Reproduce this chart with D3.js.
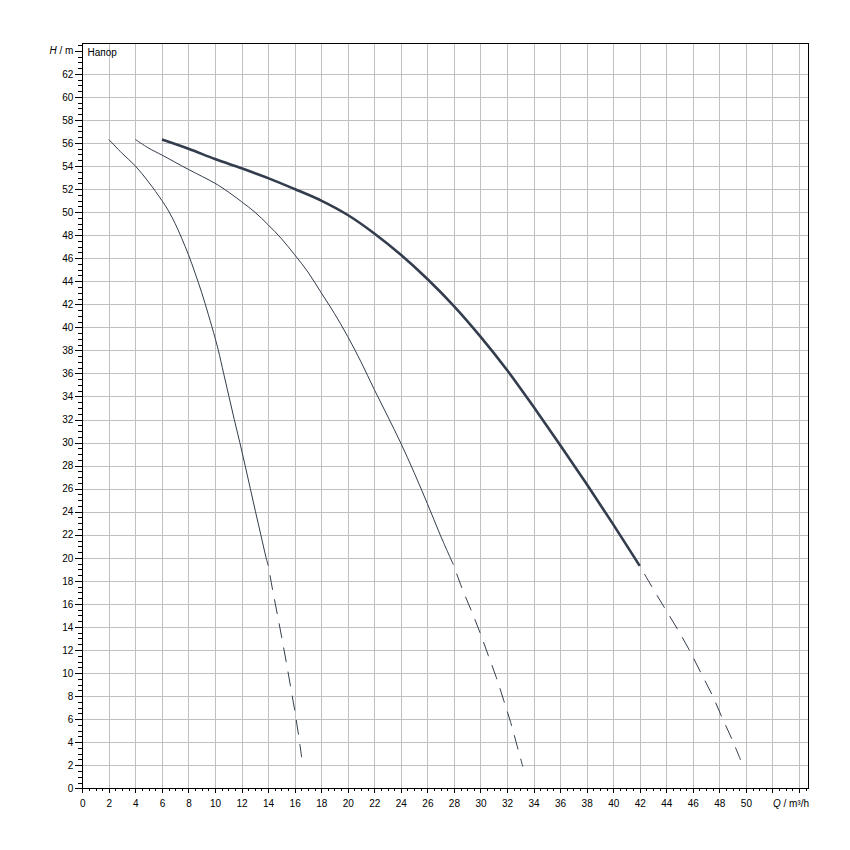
<!DOCTYPE html>
<html>
<head>
<meta charset="utf-8">
<script src="https://cdn.jsdelivr.net/npm/d3@7"></script>
<style>
  html, body { margin: 0; padding: 0; background: #fff; }
  svg { display: block; font-family: "Liberation Sans", Arial, sans-serif; }
</style>
</head>
<body>
<svg id="chart" width="850" height="850"></svg>
<script>
// ---- data (Q in m³/h, H in m) ----
const curve1Q = [2.0, 3.0, 4.0, 5.0, 6.0, 6.5, 7.0, 7.5, 8.0, 8.5, 9.0, 9.5, 10.0, 10.25, 10.65, 11.05, 11.45, 11.87, 12.27, 12.66, 13.05, 13.45, 13.85, 14.02];
const curve1H = [56.3, 55.1, 54.0, 52.6, 51.0, 50.1, 49.0, 47.7, 46.3, 44.7, 43.0, 41.1, 39.1, 38.0, 36.0, 34.0, 32.0, 30.0, 28.0, 26.0, 24.0, 22.0, 20.0, 19.3];
const curve1DashQ = [14.02, 14.33, 14.68, 15.03, 15.36, 15.68, 15.99, 16.28, 16.53];
const curve1DashH = [19.3, 17.27, 15.19, 13.07, 11.0, 8.9, 6.86, 4.71, 2.69];

const curve2Q = [4.0, 5.0, 6.0, 8.0, 10.0, 11.0, 12.0, 13.0, 14.0, 15.0, 16.0, 17.0, 18.0, 19.0, 20.0, 21.0, 22.0, 23.0, 24.0, 25.0, 26.0, 27.0, 27.96];
const curve2H = [56.3, 55.55, 54.95, 53.7, 52.5, 51.75, 50.9, 50.0, 48.9, 47.7, 46.3, 44.8, 43.0, 41.2, 39.2, 37.0, 34.6, 32.3, 29.95, 27.4, 24.7, 21.9, 19.4];
const curve2DashQ = [27.96, 28.64, 29.31, 29.97, 30.6, 31.2, 31.76, 32.28, 32.78, 33.19];
const curve2DashH = [19.4, 17.27, 15.42, 13.5, 11.5, 9.6, 7.6, 5.7, 3.6, 1.88];

const curve3Q = [6.0, 8, 10, 12, 14, 16, 18, 20, 22, 24, 26, 28, 30, 32, 34, 36, 38, 40, 42];
const curve3H = [56.3, 55.5, 54.6, 53.8, 52.95, 52.0, 51.0, 49.75, 48.15, 46.3, 44.2, 41.85, 39.2, 36.3, 33.1, 29.8, 26.4, 22.9, 19.3];
const curve3DashQ = [42.0, 42.91, 43.86, 44.8, 45.7, 46.6, 47.43, 48.18, 48.94, 49.6];
const curve3DashH = [19.3, 17.5, 15.68, 13.9, 12.07, 10.04, 8.16, 6.2, 4.28, 2.46];

const xLabelTicks = d3.range(0, 50.01, 2);   // 0..50
const yLabelTicks = d3.range(0, 62.01, 2);   // 0..62
const xAxisTitle = ["Q", " / m³/h"];
const yAxisTitle = ["H", " / m"];
const curveTitle = "Напор";

(function () {
  const svg = d3.select("#chart");
  const pLeft = 82.3, pRight = 808.3, pTop = 42.7, pBottom = 788.3;
  const x = d3.scaleLinear().domain([0, 54.7]).range([pLeft, pRight]);
  const y = d3.scaleLinear().domain([0, 64.7]).range([pBottom, pTop]);

  const gridColor = "#c0c0c0";
  const lineColor = "#333d4d";

  svg.append("rect").attr("width", 850).attr("height", 850).attr("fill", "#fff");

  // grid
  const grid = svg.append("g").attr("shape-rendering", "crispEdges");
  grid.selectAll(".vx").data(d3.range(2, 54.01, 2)).join("line")
    .attr("x1", d => Math.round(x(d)) + 0.5).attr("x2", d => Math.round(x(d)) + 0.5)
    .attr("y1", pTop).attr("y2", pBottom)
    .attr("stroke", gridColor).attr("stroke-width", 1);
  grid.selectAll(".hy").data(d3.range(2, 62.01, 2)).join("line")
    .attr("y1", d => Math.round(y(d)) + 0.5).attr("y2", d => Math.round(y(d)) + 0.5)
    .attr("x1", pLeft).attr("x2", pRight)
    .attr("stroke", gridColor).attr("stroke-width", 1);

  const fmt = d3.format("d");
  const yMinor = d3.axisLeft(y).tickValues(d3.range(0, 64.71, 0.5)).tickSize(4).tickFormat("");
  const yMajor = d3.axisLeft(y).tickValues(d3.range(0, 64.01, 2)).tickSize(7).tickPadding(2)
    .tickFormat(d => yLabelTicks.includes(d) ? fmt(d) : "");
  const xMinor = d3.axisBottom(x).tickValues(d3.range(0, 54.71, 0.5)).tickSize(3).tickFormat("");
  const xMajor = d3.axisBottom(x).tickValues(d3.range(0, 54.01, 2)).tickSize(5).tickPadding(6.5)
    .tickFormat(d => xLabelTicks.includes(d) ? fmt(d) : "");

  function styleAxis(g) {
    g.select(".domain").remove();
    g.selectAll("line").attr("stroke", "#000").attr("shape-rendering", "crispEdges");
    g.selectAll("text").attr("fill", "#000").attr("font-size", 10)
      .attr("font-family", '"Liberation Sans", Arial, sans-serif');
  }
  svg.append("g").attr("transform", `translate(${pLeft},0)`).call(yMinor).call(styleAxis);
  svg.append("g").attr("transform", `translate(${pLeft},0)`).call(yMajor).call(styleAxis);
  svg.append("g").attr("transform", `translate(0,${pBottom})`).call(xMinor).call(styleAxis);
  svg.append("g").attr("transform", `translate(0,${pBottom})`).call(xMajor).call(styleAxis);

  // frame
  svg.append("rect")
    .attr("x", Math.round(pLeft) + 0.5).attr("y", Math.round(pTop) + 0.5)
    .attr("width", Math.round(pRight) - Math.round(pLeft)).attr("height", Math.round(pBottom) - Math.round(pTop))
    .attr("fill", "none").attr("stroke", "#000").attr("stroke-width", 1)
    .attr("shape-rendering", "crispEdges");

  // axis titles
  const yt = svg.append("text").attr("x", pLeft - 9).attr("y", y(64)).attr("dy", "0.32em")
    .attr("text-anchor", "end").attr("font-size", 10).attr("fill", "#000");
  yt.append("tspan").attr("font-style", "italic").text(yAxisTitle[0]);
  yt.append("tspan").text(yAxisTitle[1]);

  const xt = svg.append("text").attr("x", 809).attr("y", 807)
    .attr("text-anchor", "end").attr("font-size", 10).attr("fill", "#000");
  xt.append("tspan").attr("font-style", "italic").text(xAxisTitle[0]);
  xt.append("tspan").text(xAxisTitle[1]);

  svg.append("text").attr("x", 87.5).attr("y", 56).attr("font-size", 10).attr("fill", "#000")
    .text(curveTitle);

  // curves
  const line = d3.line().x(d => x(d[0])).y(d => y(d[1])).curve(d3.curveCatmullRom.alpha(0.5));
  const zip = (a, b) => a.map((v, i) => [v, b[i]]);

  const curves = svg.append("g").attr("fill", "none").attr("stroke", lineColor)
    .attr("stroke-linejoin", "round");

  curves.append("path").attr("d", line(zip(curve1Q, curve1H))).attr("stroke-width", 1);
  curves.append("path").attr("d", line(zip(curve2Q, curve2H))).attr("stroke-width", 1);
  curves.append("path").attr("d", line(zip(curve3Q, curve3H))).attr("stroke-width", 2.6);

  [[curve1DashQ, curve1DashH], [curve2DashQ, curve2DashH], [curve3DashQ, curve3DashH]].forEach(([q, h]) => {
    curves.append("path").attr("d", line(zip(q, h)))
      .attr("stroke-width", 1)
      .attr("stroke-dasharray", "15,9.5")
      .attr("stroke-dashoffset", 15);
  });
})();
</script>
</body>
</html>
